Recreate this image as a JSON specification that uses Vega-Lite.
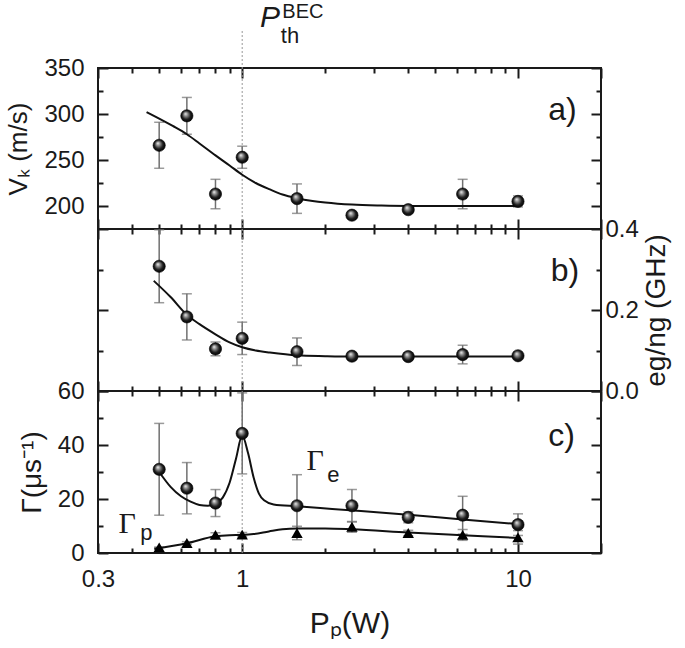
{
  "$schema": "https://vega.github.io/schema/vega-lite/v6.json",
  "background": "white",
  "padding": {"left": 4, "top": 0, "right": 0, "bottom": 0},
  "spacing": 0,
  "bounds": "flush",
  "config": {
    "view": {"stroke": "#1a1a1a", "strokeWidth": 2},
    "axis": {"domain": false, "grid": false, "labelFont": "Liberation Sans", "labelFontSize": 24, "labelColor": "#1a1a1a", "titleFont": "Liberation Sans", "titleFontSize": 26, "titleFontWeight": "normal", "titleColor": "#1a1a1a", "tickColor": "#1a1a1a", "tickWidth": 2, "labelFlush": false, "labelOverlap": false}
  },
  "datasets": {
    "a": [
      {"P": 0.5, "v": 266, "e": 25}, {"P": 0.63, "v": 298, "e": 20}, {"P": 0.8, "v": 213, "e": 16},
      {"P": 1, "v": 253, "e": 12}, {"P": 1.58, "v": 208, "e": 16}, {"P": 2.5, "v": 190, "e": 0},
      {"P": 4, "v": 196, "e": 2}, {"P": 6.3, "v": 213, "e": 16}, {"P": 10, "v": 205, "e": 6}
    ],
    "fa": [
      {"P": 0.45, "v": 302}, {"P": 0.5, "v": 295}, {"P": 0.56, "v": 287}, {"P": 0.63, "v": 278},
      {"P": 0.7, "v": 268}, {"P": 0.8, "v": 255}, {"P": 0.9, "v": 244}, {"P": 1, "v": 234},
      {"P": 1.12, "v": 225}, {"P": 1.26, "v": 218}, {"P": 1.4, "v": 212.5}, {"P": 1.58, "v": 208.5},
      {"P": 1.8, "v": 205.5}, {"P": 2, "v": 203.8}, {"P": 2.5, "v": 201.5}, {"P": 3.2, "v": 200.5},
      {"P": 4, "v": 200.1}, {"P": 10, "v": 200}
    ],
    "b": [
      {"P": 0.5, "v": 0.308, "e": 0.09}, {"P": 0.63, "v": 0.183, "e": 0.057}, {"P": 0.8, "v": 0.104, "e": 0.017},
      {"P": 1, "v": 0.13, "e": 0.04}, {"P": 1.58, "v": 0.097, "e": 0.034}, {"P": 2.5, "v": 0.086, "e": 0.008},
      {"P": 4, "v": 0.085, "e": 0.004}, {"P": 6.3, "v": 0.09, "e": 0.023}, {"P": 10, "v": 0.087, "e": 0.004}
    ],
    "fb": [
      {"P": 0.478, "v": 0.272}, {"P": 0.55, "v": 0.232}, {"P": 0.63, "v": 0.188}, {"P": 0.7, "v": 0.165},
      {"P": 0.8, "v": 0.14}, {"P": 0.9, "v": 0.12}, {"P": 1, "v": 0.108}, {"P": 1.12, "v": 0.1},
      {"P": 1.26, "v": 0.095}, {"P": 1.58, "v": 0.088}, {"P": 2, "v": 0.086}, {"P": 2.5, "v": 0.085},
      {"P": 4, "v": 0.085}, {"P": 10, "v": 0.085}
    ],
    "ce": [
      {"P": 0.5, "v": 31, "e": 17}, {"P": 0.63, "v": 24, "e": 9.5}, {"P": 0.8, "v": 18.5, "e": 5},
      {"P": 1, "v": 44.3, "e": 15}, {"P": 1.58, "v": 17.5, "e": 11.5}, {"P": 2.5, "v": 17.5, "e": 6},
      {"P": 4, "v": 13.2, "e": 2}, {"P": 6.3, "v": 14, "e": 7}, {"P": 10, "v": 10.5, "e": 4}
    ],
    "cp": [
      {"P": 0.5, "v": 2.1, "e": 0}, {"P": 0.63, "v": 3.7, "e": 0.5}, {"P": 0.8, "v": 6.7, "e": 0.8},
      {"P": 1, "v": 6.8, "e": 0.8}, {"P": 1.58, "v": 7.4, "e": 2.5}, {"P": 2.5, "v": 9.7, "e": 2},
      {"P": 4, "v": 7.4, "e": 1}, {"P": 6.3, "v": 6.7, "e": 2}, {"P": 10, "v": 5.8, "e": 2.5}
    ],
    "fe": [
      {"P": 0.5, "v": 30}, {"P": 0.55, "v": 24.5}, {"P": 0.6, "v": 21}, {"P": 0.65, "v": 19},
      {"P": 0.7, "v": 17.8}, {"P": 0.75, "v": 17.5}, {"P": 0.8, "v": 18.3}, {"P": 0.85, "v": 20.5},
      {"P": 0.9, "v": 26}, {"P": 0.95, "v": 35}, {"P": 1, "v": 43.5}, {"P": 1.05, "v": 37},
      {"P": 1.1, "v": 28}, {"P": 1.15, "v": 22}, {"P": 1.2, "v": 19.5}, {"P": 1.3, "v": 18},
      {"P": 1.58, "v": 17.3}, {"P": 2.12, "v": 16.3}, {"P": 4, "v": 14.2}, {"P": 6.3, "v": 12.4},
      {"P": 10, "v": 10.7}
    ],
    "fp": [
      {"P": 0.48, "v": 1.5}, {"P": 0.63, "v": 3.6}, {"P": 0.8, "v": 6.2}, {"P": 0.9, "v": 6.6},
      {"P": 1, "v": 6.7}, {"P": 1.1, "v": 7}, {"P": 1.25, "v": 8}, {"P": 1.4, "v": 8.8},
      {"P": 1.58, "v": 9.1}, {"P": 2, "v": 9.1}, {"P": 2.5, "v": 8.8}, {"P": 4, "v": 7.6},
      {"P": 6.3, "v": 6.6}, {"P": 10, "v": 5.6}
    ]
  },
  "vconcat": [
    {
      "width": 503, "height": 161,
      "resolve": {"axis": {"x": "independent", "y": "independent"}},
      "layer": [
        {
          "data": {"values": [{}]},
          "mark": {"type": "rule", "color": "#999999", "strokeWidth": 1, "strokeDash": [2, 2]},
          "encoding": {
            "x": {"datum": 1, "type": "quantitative", "scale": {"type": "log", "domain": [0.3, 20], "nice": false},
              "axis": {"orient": "bottom", "values": [0.4,0.5,0.6,0.7,0.8,0.9,2,3,4,5,6,7,8,9], "labels": false, "title": null, "tickSize": -5}},
            "y": {"datum": 175, "type": "quantitative", "scale": {"domain": [175, 350], "nice": false, "zero": false},
              "axis": {"orient": "left", "values": [225, 275, 325], "labels": false, "title": null, "tickSize": -5}},
            "y2": {"datum": 392}
          }
        },
        {
          "data": {"name": "a"},
          "mark": {"type": "errorbar", "ticks": {"size": 10, "thickness": 1.5, "color": "#707070"}, "rule": {"strokeWidth": 1.5, "color": "#707070"}},
          "encoding": {
            "x": {"field": "P", "type": "quantitative", "scale": {"type": "log", "domain": [0.3, 20], "nice": false}, "axis": null},
            "y": {"field": "v", "type": "quantitative", "scale": {"domain": [175, 350], "nice": false, "zero": false}, "axis": null},
            "yError": {"field": "e"}
          }
        },
        {
          "data": {"name": "fa"},
          "mark": {"type": "line", "color": "#111111", "strokeWidth": 2, "interpolate": "monotone"},
          "encoding": {
            "x": {"field": "P", "type": "quantitative", "scale": {"type": "log", "domain": [0.3, 20], "nice": false},
              "axis": {"orient": "bottom", "values": [0.3, 1, 10, 20], "labels": false, "title": null, "tickSize": -10}},
            "y": {"field": "v", "type": "quantitative", "scale": {"domain": [175, 350], "nice": false, "zero": false},
              "axis": {"orient": "left", "values": [200, 250, 300, 350], "labelPadding": 24, "tickSize": -10, "title": "Vₖ (m/s)", "titlePadding": 12}}
          }
        },
        {
          "data": {"name": "a"},
          "mark": {"type": "point", "filled": true, "size": 150, "opacity": 1, "stroke": "#000000", "strokeWidth": 0.6,
            "fill": {"gradient": "radial", "x1": 0.38, "y1": 0.32, "r1": 0, "x2": 0.5, "y2": 0.5, "r2": 0.55,
              "stops": [{"offset": 0, "color": "#f4f4f4"}, {"offset": 0.3, "color": "#8a8a8a"}, {"offset": 0.65, "color": "#1c1c1c"}, {"offset": 1, "color": "#000000"}]}},
          "encoding": {
            "x": {"field": "P", "type": "quantitative", "scale": {"type": "log", "domain": [0.3, 20], "nice": false},
              "axis": {"orient": "top", "values": [0.3, 1, 10, 20], "labels": false, "title": null, "tickSize": -10}},
            "y": {"field": "v", "type": "quantitative", "scale": {"domain": [175, 350], "nice": false, "zero": false},
              "axis": {"orient": "right", "values": [200, 250, 300, 350], "labels": false, "title": null, "tickSize": -10}}
          }
        },
        {
          "data": {"values": [{}]},
          "mark": {"type": "text", "font": "Liberation Sans", "fontSize": 32, "align": "center", "baseline": "middle", "color": "#1a1a1a"},
          "encoding": {
            "x": {"datum": 14.5, "type": "quantitative", "scale": {"type": "log", "domain": [0.3, 20], "nice": false},
              "axis": {"orient": "top", "values": [0.4,0.5,0.6,0.7,0.8,0.9,2,3,4,5,6,7,8,9], "labels": false, "title": null, "tickSize": -5}},
            "y": {"datum": 304, "type": "quantitative", "scale": {"domain": [175, 350], "nice": false, "zero": false},
              "axis": {"orient": "right", "values": [225, 275, 325], "labels": false, "title": null, "tickSize": -5}},
            "text": {"value": "a)"}
          }
        },
        {
          "data": {"values": [{}]},
          "mark": {"type": "text", "font": "Liberation Sans", "fontSize": 30, "fontStyle": "italic", "align": "center", "baseline": "middle", "color": "#1a1a1a"},
          "encoding": {
            "x": {"datum": 1.26, "type": "quantitative", "scale": {"type": "log", "domain": [0.3, 20], "nice": false}, "axis": null},
            "y": {"datum": 404, "type": "quantitative", "scale": {"domain": [175, 350], "nice": false, "zero": false}, "axis": null},
            "text": {"value": "P"}
          }
        },
        {
          "data": {"values": [{}]},
          "mark": {"type": "text", "font": "Liberation Sans", "fontSize": 22, "align": "center", "baseline": "middle", "color": "#1a1a1a"},
          "encoding": {
            "x": {"datum": 1.49, "type": "quantitative", "scale": {"type": "log", "domain": [0.3, 20], "nice": false}, "axis": null},
            "y": {"datum": 385, "type": "quantitative", "scale": {"domain": [175, 350], "nice": false, "zero": false}, "axis": null},
            "text": {"value": "th"}
          }
        },
        {
          "data": {"values": [{}]},
          "mark": {"type": "text", "font": "Liberation Sans", "fontSize": 20, "align": "center", "baseline": "middle", "color": "#1a1a1a"},
          "encoding": {
            "x": {"datum": 1.66, "type": "quantitative", "scale": {"type": "log", "domain": [0.3, 20], "nice": false}, "axis": null},
            "y": {"datum": 411, "type": "quantitative", "scale": {"domain": [175, 350], "nice": false, "zero": false}, "axis": null},
            "text": {"value": "BEC"}
          }
        }
      ]
    },
    {
      "width": 503, "height": 162,
      "resolve": {"axis": {"x": "independent", "y": "independent"}},
      "layer": [
        {
          "data": {"values": [{}]},
          "mark": {"type": "rule", "color": "#999999", "strokeWidth": 1, "strokeDash": [2, 2]},
          "encoding": {
            "x": {"datum": 1, "type": "quantitative", "scale": {"type": "log", "domain": [0.3, 20], "nice": false},
              "axis": {"orient": "bottom", "values": [0.4,0.5,0.6,0.7,0.8,0.9,2,3,4,5,6,7,8,9], "labels": false, "title": null, "tickSize": -5}},
            "y": {"datum": 0, "type": "quantitative", "scale": {"domain": [0, 0.4], "nice": false},
              "axis": {"orient": "left", "values": [0.1, 0.3], "labels": false, "title": null, "tickSize": -5}},
            "y2": {"datum": 0.4}
          }
        },
        {
          "data": {"name": "b"},
          "mark": {"type": "errorbar", "ticks": {"size": 10, "thickness": 1.5, "color": "#707070"}, "rule": {"strokeWidth": 1.5, "color": "#707070"}},
          "encoding": {
            "x": {"field": "P", "type": "quantitative", "scale": {"type": "log", "domain": [0.3, 20], "nice": false}, "axis": null},
            "y": {"field": "v", "type": "quantitative", "scale": {"domain": [0, 0.4], "nice": false}, "axis": null},
            "yError": {"field": "e"}
          }
        },
        {
          "data": {"name": "fb"},
          "mark": {"type": "line", "color": "#111111", "strokeWidth": 2, "interpolate": "monotone"},
          "encoding": {
            "x": {"field": "P", "type": "quantitative", "scale": {"type": "log", "domain": [0.3, 20], "nice": false},
              "axis": {"orient": "bottom", "values": [0.3, 1, 10, 20], "labels": false, "title": null, "tickSize": -10}},
            "y": {"field": "v", "type": "quantitative", "scale": {"domain": [0, 0.4], "nice": false},
              "axis": {"orient": "left", "values": [0, 0.2, 0.4], "labels": false, "title": null, "tickSize": -10}}
          }
        },
        {
          "data": {"name": "b"},
          "mark": {"type": "point", "filled": true, "size": 150, "opacity": 1, "stroke": "#000000", "strokeWidth": 0.6,
            "fill": {"gradient": "radial", "x1": 0.38, "y1": 0.32, "r1": 0, "x2": 0.5, "y2": 0.5, "r2": 0.55,
              "stops": [{"offset": 0, "color": "#f4f4f4"}, {"offset": 0.3, "color": "#8a8a8a"}, {"offset": 0.65, "color": "#1c1c1c"}, {"offset": 1, "color": "#000000"}]}},
          "encoding": {
            "x": {"field": "P", "type": "quantitative", "scale": {"type": "log", "domain": [0.3, 20], "nice": false},
              "axis": {"orient": "top", "values": [0.3, 1, 10, 20], "labels": false, "title": null, "tickSize": -10}},
            "y": {"field": "v", "type": "quantitative", "scale": {"domain": [0, 0.4], "nice": false},
              "axis": {"orient": "right", "values": [0, 0.2, 0.4], "format": ".1f", "labelPadding": 14, "tickSize": -10,
                "title": "eg/ng (GHz)", "titleFontSize": 28, "titleAngle": 270, "titleBaseline": "top", "titlePadding": 4}}
          }
        },
        {
          "data": {"values": [{}]},
          "mark": {"type": "text", "font": "Liberation Sans", "fontSize": 32, "align": "center", "baseline": "middle", "color": "#1a1a1a"},
          "encoding": {
            "x": {"datum": 14.8, "type": "quantitative", "scale": {"type": "log", "domain": [0.3, 20], "nice": false},
              "axis": {"orient": "top", "values": [0.4,0.5,0.6,0.7,0.8,0.9,2,3,4,5,6,7,8,9], "labels": false, "title": null, "tickSize": -5}},
            "y": {"datum": 0.296, "type": "quantitative", "scale": {"domain": [0, 0.4], "nice": false},
              "axis": {"orient": "right", "values": [0.1, 0.3], "labels": false, "title": null, "tickSize": -5}},
            "text": {"value": "b)"}
          }
        }
      ]
    },
    {
      "width": 503, "height": 162,
      "resolve": {"axis": {"x": "independent", "y": "independent"}},
      "layer": [
        {
          "data": {"values": [{}]},
          "mark": {"type": "rule", "color": "#999999", "strokeWidth": 1, "strokeDash": [2, 2]},
          "encoding": {
            "x": {"datum": 1, "type": "quantitative", "scale": {"type": "log", "domain": [0.3, 20], "nice": false},
              "axis": {"orient": "bottom", "values": [0.4,0.5,0.6,0.7,0.8,0.9,2,3,4,5,6,7,8,9], "labels": false, "title": null, "tickSize": -5}},
            "y": {"datum": 0, "type": "quantitative", "scale": {"domain": [0, 60], "nice": false},
              "axis": {"orient": "left", "values": [10, 30, 50], "labels": false, "title": null, "tickSize": -5}},
            "y2": {"datum": 60}
          }
        },
        {
          "data": {"name": "ce"},
          "mark": {"type": "errorbar", "ticks": {"size": 10, "thickness": 1.5, "color": "#707070"}, "rule": {"strokeWidth": 1.5, "color": "#707070"}},
          "encoding": {
            "x": {"field": "P", "type": "quantitative", "scale": {"type": "log", "domain": [0.3, 20], "nice": false}, "axis": null},
            "y": {"field": "v", "type": "quantitative", "scale": {"domain": [0, 60], "nice": false}, "axis": null},
            "yError": {"field": "e"}
          }
        },
        {
          "data": {"name": "cp"},
          "mark": {"type": "errorbar", "ticks": {"size": 10, "thickness": 1.5, "color": "#707070"}, "rule": {"strokeWidth": 1.5, "color": "#707070"}},
          "encoding": {
            "x": {"field": "P", "type": "quantitative", "scale": {"type": "log", "domain": [0.3, 20], "nice": false}, "axis": null},
            "y": {"field": "v", "type": "quantitative", "scale": {"domain": [0, 60], "nice": false}, "axis": null},
            "yError": {"field": "e"}
          }
        },
        {
          "data": {"name": "fe"},
          "mark": {"type": "line", "color": "#111111", "strokeWidth": 2, "interpolate": "monotone"},
          "encoding": {
            "x": {"field": "P", "type": "quantitative", "scale": {"type": "log", "domain": [0.3, 20], "nice": false},
              "axis": {"orient": "bottom", "values": [0.3, 1, 10, 20], "format": "~g", "labelExpr": "datum.value == 20 ? '' : datum.label",
                "labelPadding": 24, "tickSize": -10, "title": "Pₚ(W)", "titleFontSize": 30, "titlePadding": 17}},
            "y": {"field": "v", "type": "quantitative", "scale": {"domain": [0, 60], "nice": false},
              "axis": {"orient": "left", "values": [0, 20, 40, 60], "labelPadding": 24, "tickSize": -10, "title": "Γ(μs⁻¹)", "titleFontSize": 28, "titlePadding": 11}}
          }
        },
        {
          "data": {"name": "fp"},
          "mark": {"type": "line", "color": "#111111", "strokeWidth": 2, "interpolate": "monotone"},
          "encoding": {
            "x": {"field": "P", "type": "quantitative", "scale": {"type": "log", "domain": [0.3, 20], "nice": false}, "axis": null},
            "y": {"field": "v", "type": "quantitative", "scale": {"domain": [0, 60], "nice": false}, "axis": null}
          }
        },
        {
          "data": {"name": "cp"},
          "mark": {"type": "point", "shape": "triangle-up", "filled": true, "size": 130, "opacity": 1, "color": "#000000"},
          "encoding": {
            "x": {"field": "P", "type": "quantitative", "scale": {"type": "log", "domain": [0.3, 20], "nice": false}, "axis": null},
            "y": {"field": "v", "type": "quantitative", "scale": {"domain": [0, 60], "nice": false}, "axis": null}
          }
        },
        {
          "data": {"name": "ce"},
          "mark": {"type": "point", "filled": true, "size": 150, "opacity": 1, "stroke": "#000000", "strokeWidth": 0.6,
            "fill": {"gradient": "radial", "x1": 0.38, "y1": 0.32, "r1": 0, "x2": 0.5, "y2": 0.5, "r2": 0.55,
              "stops": [{"offset": 0, "color": "#f4f4f4"}, {"offset": 0.3, "color": "#8a8a8a"}, {"offset": 0.65, "color": "#1c1c1c"}, {"offset": 1, "color": "#000000"}]}},
          "encoding": {
            "x": {"field": "P", "type": "quantitative", "scale": {"type": "log", "domain": [0.3, 20], "nice": false},
              "axis": {"orient": "top", "values": [0.3, 1, 10, 20], "labels": false, "title": null, "tickSize": -10}},
            "y": {"field": "v", "type": "quantitative", "scale": {"domain": [0, 60], "nice": false},
              "axis": {"orient": "right", "values": [0, 20, 40, 60], "labels": false, "title": null, "tickSize": -10}}
          }
        },
        {
          "data": {"values": [{}]},
          "mark": {"type": "text", "font": "Liberation Sans", "fontSize": 32, "align": "center", "baseline": "middle", "color": "#1a1a1a"},
          "encoding": {
            "x": {"datum": 14.4, "type": "quantitative", "scale": {"type": "log", "domain": [0.3, 20], "nice": false},
              "axis": {"orient": "top", "values": [0.4,0.5,0.6,0.7,0.8,0.9,2,3,4,5,6,7,8,9], "labels": false, "title": null, "tickSize": -5}},
            "y": {"datum": 43.3, "type": "quantitative", "scale": {"domain": [0, 60], "nice": false},
              "axis": {"orient": "right", "values": [10, 30, 50], "labels": false, "title": null, "tickSize": -5}},
            "text": {"value": "c)"}
          }
        },
        {
          "data": {"values": [{}]},
          "mark": {"type": "text", "font": "Liberation Serif", "fontSize": 30, "align": "center", "baseline": "middle", "color": "#1a1a1a"},
          "encoding": {
            "x": {"datum": 1.84, "type": "quantitative", "scale": {"type": "log", "domain": [0.3, 20], "nice": false}, "axis": null},
            "y": {"datum": 33.9, "type": "quantitative", "scale": {"domain": [0, 60], "nice": false}, "axis": null},
            "text": {"value": "Γ"}
          }
        },
        {
          "data": {"values": [{}]},
          "mark": {"type": "text", "font": "Liberation Sans", "fontSize": 22, "align": "center", "baseline": "middle", "color": "#1a1a1a"},
          "encoding": {
            "x": {"datum": 2.14, "type": "quantitative", "scale": {"type": "log", "domain": [0.3, 20], "nice": false}, "axis": null},
            "y": {"datum": 29, "type": "quantitative", "scale": {"domain": [0, 60], "nice": false}, "axis": null},
            "text": {"value": "e"}
          }
        },
        {
          "data": {"values": [{}]},
          "mark": {"type": "text", "font": "Liberation Serif", "fontSize": 30, "align": "center", "baseline": "middle", "color": "#1a1a1a"},
          "encoding": {
            "x": {"datum": 0.383, "type": "quantitative", "scale": {"type": "log", "domain": [0.3, 20], "nice": false}, "axis": null},
            "y": {"datum": 10.7, "type": "quantitative", "scale": {"domain": [0, 60], "nice": false}, "axis": null},
            "text": {"value": "Γ"}
          }
        },
        {
          "data": {"values": [{}]},
          "mark": {"type": "text", "font": "Liberation Sans", "fontSize": 22, "align": "center", "baseline": "middle", "color": "#1a1a1a"},
          "encoding": {
            "x": {"datum": 0.449, "type": "quantitative", "scale": {"type": "log", "domain": [0.3, 20], "nice": false}, "axis": null},
            "y": {"datum": 7.4, "type": "quantitative", "scale": {"domain": [0, 60], "nice": false}, "axis": null},
            "text": {"value": "p"}
          }
        }
      ]
    }
  ]
}
